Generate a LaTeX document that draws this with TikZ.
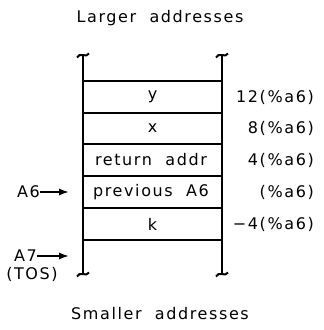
\documentclass[tikz,border=0pt]{standalone}
\usepackage{fontspec}
\setmainfont[LetterSpace=10]{DejaVu Sans}
\usetikzlibrary{arrows.meta,calc}
\begin{document}
\begin{tikzpicture}[x=1pt,y=-1pt,
  frame/.style={line width=1.8pt},
  txt/.style={font=\fontsize{16}{16}\selectfont, inner sep=0pt},
  cell/.style={txt, anchor=center},
  off/.style={txt, anchor=east},
  lbl/.style={txt},
  ptr/.style={line width=1.5pt,-{Latex[length=10pt,width=7pt]}}]
\useasboundingbox (0,0) rectangle (324,330);
% vertical lines
\coordinate (lt) at (83,55);
\coordinate (lb) at (83,274);
\coordinate (rt) at (222,55);
\coordinate (rb) at (222,274);
\draw[frame] (lt) -- (lb);
\draw[frame] (rt) -- (rb);
% tildes
\foreach \p in {lt,rt,lb,rb}{
  \draw[line width=2pt] ($(\p)+(-6,2.5)$) .. controls ($(\p)+(-3.5,-3.5)$) and ($(\p)+(3.5,3.5)$) .. ($(\p)+(6,-1.5)$);
}
% rows
\foreach \yy in {81,113,144,176,208,240}{
  \draw[frame] (83,\yy) -- (222,\yy);
}
\node[cell] (y) at (152.5,97) {y};
\node[cell] (x) at (152.5,128.5) {x};
\node[cell] (ra) at (151,160) {return\ \ addr};
\node[cell] (pa) at (151,192) {previous\ \ A6};
\node[cell] (k) at (152.5,224) {k};
\node[off] (o1) at (314,97) {12(\%a6)};
\node[off] (o2) at (314,128.5) {8(\%a6)};
\node[off] (o3) at (314,160) {4(\%a6)};
\node[off] (o4) at (314,192) {(\%a6)};
\node[off] (o5) at (314,224) {\char"2212 4(\%a6)};
\node[lbl] (top) at (160,18) {Larger\ \ addresses};
\node[lbl] (bot) at (160,314) {Smaller\ \ addresses};
\node[lbl,anchor=east] (a6) at (40,192) {A6};
\coordinate (a6t) at (69,192);
\draw[ptr] (a6) -- (a6t);
\node[lbl,anchor=east] (a7) at (37,256) {A7};
\node[lbl] (tos) at (32,274) {(TOS)};
\coordinate (a7t) at (69,256);
\draw[ptr] (a7) -- (a7t);
\end{tikzpicture}
\end{document}
